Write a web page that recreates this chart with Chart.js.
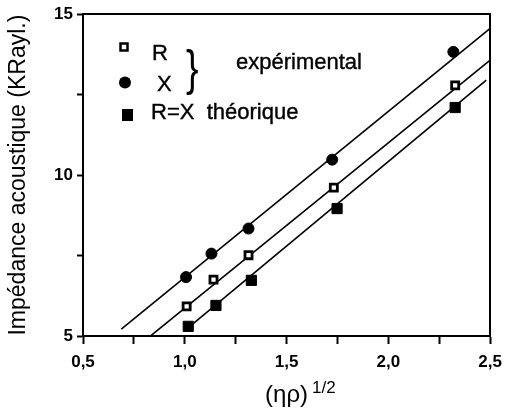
<!DOCTYPE html>
<html>
<head>
<meta charset="utf-8">
<script src="https://cdn.jsdelivr.net/npm/chart.js@4/dist/chart.umd.min.js"></script>
<style>
  html, body { margin: 0; padding: 0; background: #fff; }
  #c { display: block; }
</style>
</head>
<body>
<canvas id="c" width="510" height="411"></canvas>
<script>
// ---- data ----
const xExpX = [1.006, 1.131, 1.313, 1.724, 2.319];
const yExpX = [6.83, 7.56, 8.34, 10.48, 13.83];

const xExpR = [1.009, 1.141, 1.313, 1.732, 2.328];
const yExpR = [5.92, 6.75, 7.51, 9.61, 12.79];

const xTheo = [1.017, 1.153, 1.327, 1.748, 2.328];
const yTheo = [5.30, 5.95, 6.73, 8.96, 12.10];

// fitted straight lines (end points)
const lineXx = [0.688, 2.5];
const lineXy = [5.21, 14.56];
const lineRx = [0.835, 2.5];
const lineRy = [5.02, 13.57];
const lineTx = [1.022, 2.481];
const lineTy = [5.28, 12.95];

const xMajorTicks = [0.5, 1.0, 1.5, 2.0, 2.5];
const xTickLabels = ['0,5', '1,0', '1,5', '2,0', '2,5'];
const yMajorTicks = [5, 10, 15];
const yTickLabels = ['5', '10', '15'];

const xTitle = '(ηρ)';
const xTitleSup = '1/2';
const yTitle = 'Impédance acoustique (KRayl.)';
const legendR = 'R';
const legendX = 'X';
const legendTheo = 'R=X  théorique';
const legendExp = 'expérimental';

// ---- helpers ----
const pts = (xs, ys) => xs.map((x, i) => ({ x: x, y: ys[i] }));
const labelFor = (ticks, labels) => (v) => {
  const i = ticks.findIndex(t => Math.abs(t - v) < 1e-6);
  return i >= 0 ? labels[i] : '';
};

const FONT = "'Liberation Sans', Arial, Helvetica, sans-serif";
Chart.defaults.font.family = FONT;
Chart.defaults.color = '#000';

const legendPlugin = {
  id: 'customLegend',
  afterDraw(chart) {
    const ctx = chart.ctx;
    ctx.save();
    ctx.fillStyle = '#000';
    ctx.strokeStyle = '#000';
    // open square (R)
    ctx.lineWidth = 2.5;
    ctx.fillStyle = '#fff';
    ctx.fillRect(120.5, 43.5, 7, 7);
    ctx.strokeRect(120.5, 43.5, 7, 7);
    ctx.fillStyle = '#000';
    // circle (X)
    ctx.beginPath();
    ctx.arc(125, 82.5, 6, 0, Math.PI * 2);
    ctx.fill();
    // filled square (theory)
    ctx.fillRect(122, 109, 11, 12);

    ctx.font = '22px ' + FONT;
    ctx.textBaseline = 'alphabetic';
    ctx.textAlign = 'left';
    ctx.lineWidth = 0.4;
    const t = (s, x, y) => { ctx.fillText(s, x, y); ctx.strokeText(s, x, y); };
    t(legendR, 152, 60);
    t(legendX, 157, 91);
    t(legendTheo, 151, 119);
    t(legendExp, 236, 69);

    // brace
    ctx.save();
    ctx.translate(186, 85);
    ctx.scale(0.75, 1);
    ctx.font = '50px ' + FONT;
    ctx.fillText('}', 0, 0);
    ctx.restore();

    // superscript of the x title
    const area = chart.chartArea;
    ctx.font = '24px ' + FONT;
    const w = ctx.measureText(xTitle).width;
    ctx.font = '17px ' + FONT;
    ctx.fillText(xTitleSup, (area.left + area.right) / 2 + w / 2 + 4, 393);
    ctx.restore();
  }
};

new Chart(document.getElementById('c'), {
  type: 'scatter',
  data: {
    datasets: [
      { label: 'X line', data: pts(lineXx, lineXy), showLine: true, pointRadius: 0, borderColor: '#000', borderWidth: 1.6, order: 2 },
      { label: 'R line', data: pts(lineRx, lineRy), showLine: true, pointRadius: 0, borderColor: '#000', borderWidth: 1.6, order: 2 },
      { label: 'Theo line', data: pts(lineTx, lineTy), showLine: true, pointRadius: 0, borderColor: '#000', borderWidth: 1.6, order: 2 },
      { label: legendX, data: pts(xExpX, yExpX), pointStyle: 'circle', pointRadius: 5.5, backgroundColor: '#000', borderColor: '#000', borderWidth: 1, order: 1 },
      { label: legendR, data: pts(xExpR, yExpR), pointStyle: 'rect', pointRadius: 5, backgroundColor: '#fff', borderColor: '#000', borderWidth: 2.8, order: 1 },
      { label: legendTheo, data: pts(xTheo, yTheo), pointStyle: 'rect', pointRadius: 7.2, backgroundColor: '#000', borderColor: '#000', borderWidth: 1, order: 1 }
    ]
  },
  options: {
    responsive: false,
    animation: false,
    layout: { padding: 0 },
    plugins: { legend: { display: false }, tooltip: { enabled: false } },
    elements: { point: { hoverRadius: 0 } },
    scales: {
      x: {
        type: 'linear', position: 'bottom', min: 0.5, max: 2.5,
        afterFit: (s) => { s.height = 75; },
        grid: { drawOnChartArea: false, drawTicks: true, tickLength: 8, tickWidth: 2, tickColor: '#000' },
        border: { display: true, color: '#000', width: 2 },
        ticks: { stepSize: 0.25, autoSkip: false, maxRotation: 0, padding: 8, font: { size: 17, weight: 'bold' },
                 callback: labelFor(xMajorTicks, xTickLabels) },
        title: { display: true, text: xTitle, font: { size: 24 }, padding: { top: 0, bottom: 1 } }
      },
      y: {
        type: 'linear', position: 'left', min: 5, max: 15,
        afterFit: (s) => { s.width = 83; },
        grid: { drawOnChartArea: false, drawTicks: true, tickLength: 6, tickWidth: 2, tickColor: '#000' },
        border: { display: true, color: '#000', width: 2 },
        ticks: { stepSize: 2.5, autoSkip: false, padding: 4, font: { size: 17, weight: 'bold' },
                 callback: labelFor(yMajorTicks, yTickLabels) },
        title: { display: true, text: yTitle, font: { size: 23 }, padding: { top: 5, bottom: 0 } }
      },
      x2: {
        type: 'linear', position: 'top', min: 0.5, max: 2.5,
        afterFit: (s) => { s.height = 14; },
        grid: { drawOnChartArea: false, drawTicks: false },
        border: { display: true, color: '#000', width: 2 },
        ticks: { display: false }
      },
      y2: {
        type: 'linear', position: 'right', min: 5, max: 15,
        afterFit: (s) => { s.width = 18; },
        grid: { drawOnChartArea: false, drawTicks: false },
        border: { display: true, color: '#000', width: 2 },
        ticks: { display: false }
      }
    }
  },
  plugins: [legendPlugin]
});
</script>
</body>
</html>
